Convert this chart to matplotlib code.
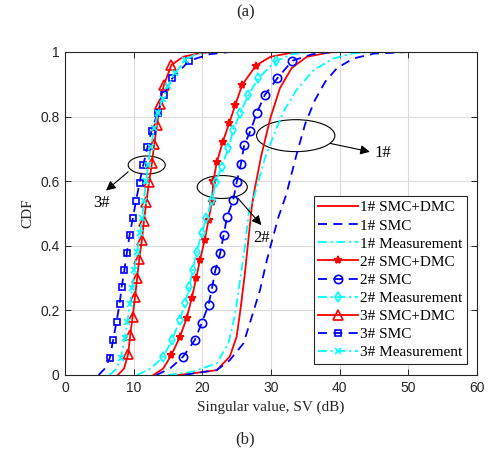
import matplotlib
matplotlib.use("Agg")
import matplotlib.pyplot as plt
from matplotlib.patches import Ellipse

# CDF curves: x = singular value (dB), y = CDF level
cdf_1_dmc = [0.0, 0.005, 0.015, 0.057, 0.119, 0.211, 0.315, 0.418, 0.521, 0.573, 0.681, 0.795, 0.888, 0.95, 0.985, 0.999, 1.0]
sv_1_dmc = [16.5, 18.5, 22.1, 24.0, 25.0, 25.6, 26.2, 26.7, 27.2, 27.6, 28.6, 29.9, 31.3, 33.0, 35.2, 38.6, 40.0]

cdf_1_smc = [0.0, 0.005, 0.015, 0.046, 0.098, 0.18, 0.263, 0.356, 0.428, 0.49, 0.557, 0.681, 0.779, 0.851, 0.908, 0.95, 0.98, 0.995, 1.0]
sv_1_smc = [17.5, 18.7, 22.1, 24.0, 26.0, 27.2, 28.4, 29.4, 30.3, 31.1, 32.2, 33.7, 35.0, 36.4, 37.9, 39.6, 42.0, 45.0, 50.0]

cdf_1_meas = [0.0, 0.01, 0.036, 0.098, 0.191, 0.294, 0.397, 0.511, 0.557, 0.671, 0.753, 0.815, 0.882, 0.944, 0.98, 0.996, 1.0]
sv_1_meas = [15.0, 18.5, 22.1, 23.8, 24.8, 25.5, 26.2, 26.8, 27.6, 29.1, 30.6, 31.8, 33.7, 36.2, 39.1, 42.0, 45.0]

cdf_2_dmc = [0.0, 0.02, 0.062, 0.119, 0.175, 0.237, 0.299, 0.356, 0.418, 0.48, 0.537, 0.6, 0.658, 0.72, 0.779, 0.836, 0.898, 0.958, 0.985, 0.997, 1.0]
sv_2_dmc = [12.9, 14.3, 15.5, 16.75, 17.7, 18.45, 19.1, 19.65, 20.35, 20.9, 21.4, 21.6, 22.1, 22.95, 23.9, 24.8, 25.8, 27.8, 29.9, 32.8, 35.0]

cdf_2_smc = [0.0, 0.02, 0.057, 0.108, 0.16, 0.217, 0.268, 0.325, 0.377, 0.433, 0.49, 0.542, 0.597, 0.652, 0.712, 0.755, 0.81, 0.867, 0.918, 0.973, 0.993, 1.0]
sv_2_smc = [13.3, 15.3, 17.2, 18.9, 19.9, 20.9, 21.4, 21.9, 22.6, 23.1, 23.6, 24.5, 25.0, 25.6, 26.1, 27.0, 27.9, 29.1, 30.9, 33.1, 36.0, 39.0]

cdf_2_meas = [0.0, 0.02, 0.057, 0.108, 0.17, 0.222, 0.273, 0.325, 0.382, 0.439, 0.485, 0.542, 0.597, 0.645, 0.702, 0.758, 0.81, 0.867, 0.918, 0.972, 0.993, 1.0]
sv_2_meas = [10.5, 12.5, 14.3, 15.6, 16.7, 17.5, 18.1, 18.6, 19.2, 19.9, 20.6, 21.4, 22.0, 22.8, 23.8, 24.5, 25.5, 26.7, 28.15, 30.7, 33.0, 36.0]

cdf_3_dmc = [0.0, 0.02, 0.065, 0.124, 0.18, 0.242, 0.30, 0.358, 0.418, 0.478, 0.537, 0.598, 0.655, 0.715, 0.775, 0.838, 0.898, 0.96, 0.985, 0.997, 1.0]
sv_3_dmc = [7.7, 8.6, 9.2, 9.5, 9.85, 10.2, 10.5, 10.8, 11.2, 11.5, 11.85, 12.25, 12.65, 13.0, 13.4, 13.8, 14.4, 15.5, 17.2, 19.7, 22.0]

cdf_3_smc = [0.0, 0.02, 0.054, 0.108, 0.165, 0.22, 0.273, 0.325, 0.377, 0.433, 0.487, 0.54, 0.595, 0.65, 0.705, 0.756, 0.812, 0.867, 0.918, 0.973, 0.993, 1.0]
sv_3_smc = [4.9, 5.8, 6.55, 7.0, 7.5, 7.95, 8.25, 8.65, 9.0, 9.4, 9.9, 10.35, 10.85, 11.4, 12.0, 12.6, 13.5, 14.4, 15.6, 18.1, 21.0, 24.0]

cdf_3_meas = [0.0, 0.02, 0.054, 0.113, 0.165, 0.22, 0.27, 0.325, 0.382, 0.44, 0.485, 0.54, 0.6, 0.65, 0.705, 0.764, 0.81, 0.856, 0.895, 0.934, 0.975, 0.993, 1.0]
sv_3_meas = [6.5, 7.5, 8.15, 8.7, 9.1, 9.45, 9.8, 10.1, 10.5, 10.9, 11.25, 11.5, 11.8, 12.1, 12.5, 13.0, 13.5, 14.2, 15.0, 16.0, 17.5, 19.0, 21.0]

labels = ["1# SMC+DMC", "1# SMC", "1# Measurement",
          "2# SMC+DMC", "2# SMC", "2# Measurement",
          "3# SMC+DMC", "3# SMC", "3# Measurement"]

RED, BLUE, CYAN = "#ff0000", "#0000ff", "#00ffff"
DASH = (0, (5, 3.5))
DASHDOT = (0, (5, 2, 1.2, 2))
SERIF = "Liberation Serif"
SANS = "Liberation Sans"

fig = plt.figure(figsize=(4.91, 4.63), dpi=100)
ax = fig.add_axes([0.1324, 0.1901, 0.8391, 0.6976])

curves = [
    (sv_1_dmc, cdf_1_dmc, RED, "-", None, 0),
    (sv_1_smc, cdf_1_smc, BLUE, DASH, None, 0),
    (sv_1_meas, cdf_1_meas, CYAN, DASHDOT, None, 0),
    (sv_2_dmc, cdf_2_dmc, RED, "-", "*", 6),
    (sv_2_smc, cdf_2_smc, BLUE, DASH, "o", 6),
    (sv_2_meas, cdf_2_meas, CYAN, DASHDOT, "d", 5.5),
    (sv_3_dmc, cdf_3_dmc, RED, "-", "^", 6.5),
    (sv_3_smc, cdf_3_smc, BLUE, DASH, "s", 4.5),
    (sv_3_meas, cdf_3_meas, CYAN, DASHDOT, "x", 4.5),
]

for (x, y, c, ls, mk, ms), lab in zip(curves, labels):
    if mk is None:
        ax.plot(x, y, color=c, linestyle=ls, lw=1.3, label=lab)
    else:
        # markers only on the read points, not on the tails
        idx = [i for i, v in enumerate(y) if 0.04 < v < 0.98]
        face = c if mk == "*" else "none"
        ax.plot(x, y, color=c, linestyle=ls, lw=1.3, marker=mk, ms=ms,
                mfc=face, mec=c, mew=1.2, markevery=idx, label=lab)

# ellipses + arrows marking the groups
ax.add_patch(Ellipse((11.9, 0.65), 5.4, 0.056, fill=False, color="k", lw=0.8))
ax.add_patch(Ellipse((22.9, 0.582), 7.3, 0.071, fill=False, color="k", lw=0.8))
ax.add_patch(Ellipse((33.6, 0.741), 11.4, 0.099, fill=False, color="k", lw=0.8))
arrow = dict(arrowstyle="-|>", color="k", lw=0.8, mutation_scale=14, shrinkA=0, shrinkB=0)
ax.annotate("", xy=(5.97, 0.571), xytext=(9.2, 0.629), arrowprops=arrow)
ax.annotate("", xy=(28.6, 0.464), xytext=(25.2, 0.547), arrowprops=arrow)
ax.annotate("", xy=(44.4, 0.691), xytext=(38.6, 0.717), arrowprops=arrow)
ax.text(5.3, 0.532, "3#", fontsize=12, family=SERIF, ha="center", va="center")
ax.text(28.6, 0.423, "2#", fontsize=12, family=SERIF, ha="center", va="center")
ax.text(46.3, 0.686, "1#", fontsize=12, family=SERIF, ha="center", va="center")

ax.set_xlim(0, 60)
ax.set_ylim(0, 1)
ax.set_xticks(range(0, 61, 10))
ax.set_yticks([0, 0.2, 0.4, 0.6, 0.8, 1])
ax.set_yticklabels(["0", "0.2", "0.4", "0.6", "0.8", "1"])
ax.grid(True, color="#dcdcdc", lw=0.8)
ax.set_axisbelow(True)
ax.tick_params(direction="in", length=4, width=0.7, top=True, right=True,
               labelsize=10, colors="#262626", pad=4)
for lab in ax.get_xticklabels() + ax.get_yticklabels():
    lab.set_family(SANS)
for s in ax.spines.values():
    s.set_color("#262626")
    s.set_linewidth(0.8)

ax.set_xlabel("Singular value, SV (dB)", fontsize=11, family=SERIF, color="#262626", labelpad=4)
ax.set_ylabel("CDF", fontsize=11, family=SERIF, color="#262626", labelpad=4)

leg = ax.legend(loc="lower right", bbox_to_anchor=(0.976, 0.034), borderaxespad=0,
                prop={"family": SERIF, "size": 11}, labelspacing=0.29,
                handlelength=2.6, handletextpad=0.15, borderpad=0.3,
                fancybox=False, framealpha=1, edgecolor="#262626")
leg.get_frame().set_linewidth(0.8)

fig.text(0.5, 0.974, "(a)", fontsize=12, family=SERIF, ha="center", va="center", color="#262626")
fig.text(0.5, 0.05, "(b)", fontsize=12, family=SERIF, ha="center", va="center", color="#262626")

fig.savefig("out.png", dpi=100)
